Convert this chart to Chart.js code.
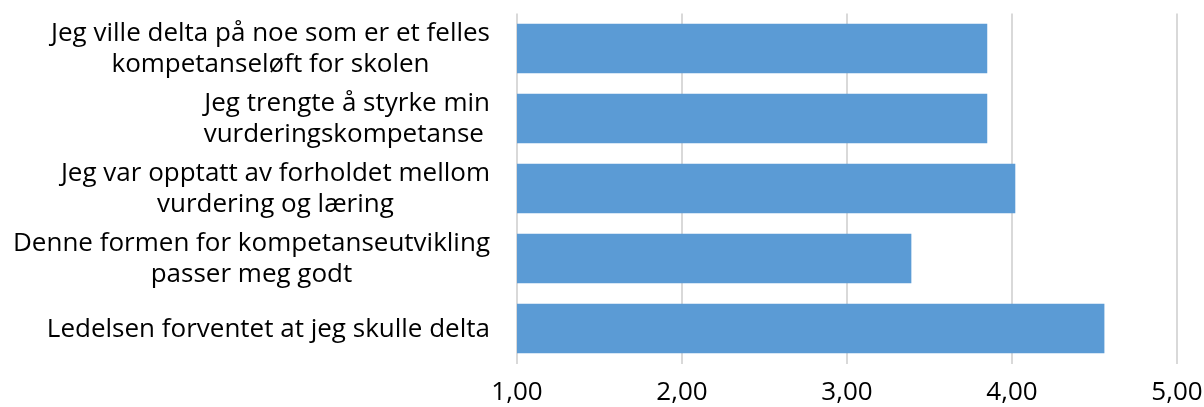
<!DOCTYPE html>
<html><head><meta charset="utf-8">
<script src="https://cdn.jsdelivr.net/npm/chart.js@4"></script>
<style>html,body{margin:0;padding:0;background:#fff}#wrap{width:1204px;height:407px;position:relative}</style>
</head><body><div id="wrap"><canvas id="c"></canvas></div>
<script>
const categories = [
  ["Jeg ville delta på noe som er et felles", "kompetanseløft for skolen"],
  ["Jeg trengte å styrke min", "vurderingskompetanse "],
  ["Jeg var opptatt av forholdet mellom", "vurdering og læring"],
  ["Denne formen for kompetanseutvikling", "passer meg godt"],
  ["Ledelsen forventet at jeg skulle delta"]
];
const values = [3.85, 3.85, 4.02, 3.39, 4.56];
const xTicks = [1, 2, 3, 4, 5];
const xTickLabels = ["1,00", "2,00", "3,00", "4,00", "5,00"];

const FONT = '"Open Sans", "DejaVu Sans", sans-serif';

const catLabelPlugin = {
  id: 'catLabels',
  afterDraw(chart) {
    const ctx = chart.ctx, y = chart.scales.y;
    ctx.save();
    ctx.font = '26px ' + FONT;
    ctx.fillStyle = '#000';
    ctx.textBaseline = 'middle';
    ctx.textAlign = 'center';
    const right = chart.chartArea.left - 27;
    const lh = 31;
    categories.forEach((lines, i) => {
      const cy = y.getPixelForValue(i) + 1;
      const w = Math.max(...lines.map(l => ctx.measureText(l.trimEnd()).width));
      const cx = right - w / 2;
      lines.forEach((l, j) => ctx.fillText(l, cx, cy + (j - (lines.length - 1) / 2) * lh));
    });
    ctx.restore();
  }
};

new Chart(document.getElementById('c'), {
  type: 'bar',
  data: {
    labels: categories.map(l => l.join(' ')),
    datasets: [{
      data: values,
      backgroundColor: '#5b9bd5',
      borderWidth: 0,
      categoryPercentage: 1,
      barPercentage: 0.71
    }]
  },
  options: {
    indexAxis: 'y',
    responsive: true,
    maintainAspectRatio: false,
    animation: false,
    layout: { padding: { top: 13.5, right: 27, bottom: 0, left: 0 } },
    plugins: { legend: { display: false }, tooltip: { enabled: false } },
    scales: {
      x: {
        min: 1, max: 5,
        afterBuildTicks: s => { s.ticks = xTicks.map(v => ({ value: v })); },
        afterFit: s => { s.height = 43.5; s.paddingLeft = 0; s.paddingRight = 0; },
        ticks: {
          callback: (v, i) => xTickLabels[i],
          font: { family: FONT, size: 26 },
          color: '#000',
          padding: 13,
          maxRotation: 0
        },
        grid: { color: '#d9d9d9', lineWidth: 2, drawTicks: false },
        border: { display: false }
      },
      y: {
        afterFit: s => { s.width = 517; },
        ticks: { display: false },
        grid: { display: false },
        border: { display: false }
      }
    }
  },
  plugins: [catLabelPlugin]
});
</script>
</body></html>
